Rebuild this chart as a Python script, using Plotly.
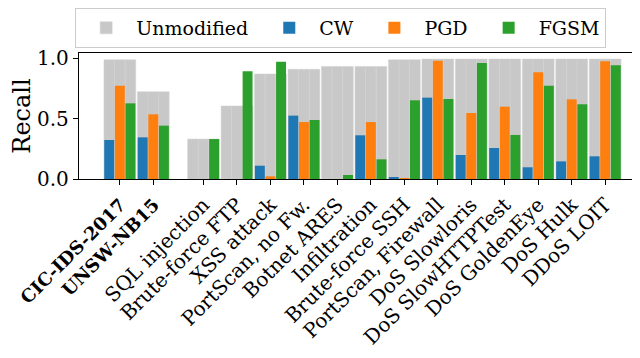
import plotly.graph_objects as go

# attack classes (first two are the whole datasets)
categories = ["CIC-IDS-2017", "UNSW-NB15", "SQL injection", "Brute-force FTP",
              "XSS attack", "PortScan, no Fw.", "Botnet ARES", "Infiltration",
              "Brute-force SSH", "PortScan, Firewall", "DoS Slowloris", "DoS SlowHTTPTest",
              "DoS GoldenEye", "DoS Hulk", "DDoS LOIT"]
positions = [0, 1, 2.5, 3.5, 4.5, 5.5, 6.5, 7.5, 8.5, 9.5, 10.5, 11.5, 12.5, 13.5, 14.5]

unmodified = [0.988, 0.723, 0.331, 0.605, 0.870, 0.909, 0.933, 0.933, 0.988, 0.994,
              0.994, 0.994, 0.994, 0.994, 0.994]
cw = [0.323, 0.345, 0.0, 0.0, 0.110, 0.525, 0.0, 0.362, 0.014, 0.674,
      0.199, 0.257, 0.097, 0.146, 0.188]
pgd = [0.773, 0.536, 0.0, 0.0, 0.022, 0.472, 0.0, 0.472, 0.005, 0.980,
       0.547, 0.599, 0.884, 0.660, 0.975]
fgsm = [0.627, 0.442, 0.331, 0.892, 0.972, 0.489, 0.033, 0.163, 0.652, 0.663,
        0.961, 0.365, 0.773, 0.619, 0.942]

# the two whole-dataset labels are bold
ticktext = ["<b><span style='font-size:18px'>%s</span></b>" % c if i < 2 else c
            for i, c in enumerate(categories)]

fnt = "DejaVu Serif"
w = 0.95 / 3
pad = "\u00a0"  # a little extra room between legend entries

fig = go.Figure()
# gray background bars, drawn in thirds like the original
for i in range(3):
    fig.add_trace(go.Bar(x=positions, y=unmodified, name="Unmodified" + pad, width=w,
                         offset=-0.475 + i * w, legendgroup="unmod", showlegend=(i == 0),
                         marker=dict(color="#c8c8c8", line=dict(color="#d2d2d2", width=0.5))))
for i, (name, vals, col) in enumerate([("CW" + pad, cw, "#1f77b4"), ("PGD" + pad, pgd, "#ff7f0e"),
                                       ("FGSM", fgsm, "#2ca02c")]):
    fig.add_trace(go.Bar(x=positions, y=vals, name=name, width=w - 0.02,
                         offset=-0.475 + i * w + 0.01,
                         marker=dict(color=col, line=dict(width=0))))

fig.update_layout(
    barmode="overlay",
    width=640, height=358,
    margin=dict(l=71, r=5, t=45, b=187, autoexpand=False),
    plot_bgcolor="white", paper_bgcolor="white",
    font=dict(family=fnt, size=20, color="black"),
    showlegend=True,
    legend=dict(orientation="h", xref="container", x=0.105, xanchor="left",
                yref="container", y=1.0, yanchor="top",
                bordercolor="#cccccc", borderwidth=1, font=dict(size=19),
                itemwidth=50, traceorder="normal", tracegroupgap=0),
)
fig.update_xaxes(range=[-1.22, 15.63], tickvals=positions, ticktext=ticktext,
                 tickangle=-45, ticks="outside", ticklen=5, tickcolor="black",
                 ticklabeloverflow="allow", automargin=False,
                 showline=True, linecolor="black", linewidth=1.3, mirror=True,
                 showgrid=False, zeroline=False)
fig.update_yaxes(range=[0, 1.044], tickvals=[0, 0.5, 1.0], tickformat=".1f",
                 ticks="outside", ticklen=5, tickcolor="black", automargin=False,
                 showline=True, linecolor="black", linewidth=1.3, mirror=True,
                 showgrid=False, zeroline=False,
                 title=dict(text="Recall", standoff=17))

fig.add_annotation(text="Fig. 1: Attack recall comparison for both datasets and every attack class",
                   xref="paper", yref="paper", x=-0.125, y=-1.43, xanchor="left", yanchor="top",
                   showarrow=False, font=dict(family="Liberation Serif", size=19))

fig.write_html("out.html")
